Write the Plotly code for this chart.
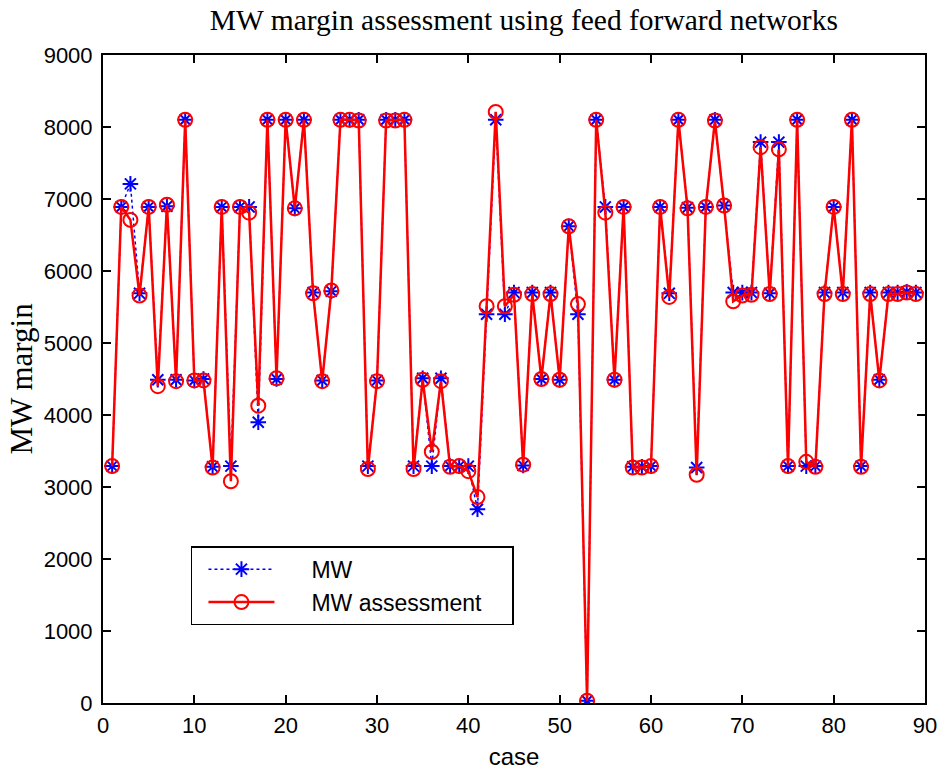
import plotly.graph_objects as go

# Case index and the two MW margin series (actual vs. network assessment)
cases = list(range(1, 90))

mw = [
    3290, 6890, 7210, 5690, 6890, 4490, 6900, 4490, 8100, 4480,
    4500, 3280, 6890, 3290, 6890, 6890, 3900, 8100, 4500, 8100,
    6870, 8100, 5700, 4480, 5720, 8100, 8100, 8100, 3290, 4480,
    8100, 8100, 8100, 3290, 4510, 3290, 4510, 3290, 3290, 3290,
    2690, 5400, 8100, 5400, 5700, 3300, 5700, 4500, 5700, 4490,
    6620, 5400, 30, 8100, 6890, 4490, 6890, 3280, 3280, 3290,
    6890, 5690, 8100, 6880, 3270, 6890, 8100, 6910, 5700, 5700,
    5700, 7790, 5690, 7790, 3290, 8100, 3290, 3290, 5700, 6890,
    5700, 8100, 3290, 5700, 4490, 5700, 5700, 5710, 5700,
]

mw_assessment = [
    3290, 6890, 6710, 5660, 6890, 4400, 6920, 4470, 8100, 4480,
    4480, 3270, 6890, 3080, 6890, 6810, 4130, 8100, 4510, 8100,
    6870, 8100, 5690, 4470, 5730, 8100, 8100, 8090, 3250, 4470,
    8090, 8090, 8100, 3250, 4490, 3490, 4470, 3280, 3290, 3220,
    2860, 5510, 8210, 5510, 5670, 3310, 5680, 4500, 5680, 4490,
    6620, 5540, 30, 8100, 6810, 4490, 6890, 3270, 3270, 3290,
    6890, 5640, 8100, 6870, 3170, 6890, 8090, 6910, 5580, 5660,
    5670, 7720, 5680, 7690, 3290, 8100, 3350, 3280, 5680, 6890,
    5680, 8100, 3280, 5680, 4480, 5680, 5680, 5700, 5680,
]

x_ticks = list(range(0, 91, 10))
y_ticks = list(range(0, 9001, 1000))

sans = "Liberation Sans, Arial, sans-serif"
serif = "Liberation Serif, Times New Roman, serif"

# legend entries: the gap after the sample line and the box's right padding
# are kept with non-breaking spaces
pad = "\u00a0" * 5
names = [pad + "MW", pad + "MW assessment" + "\u00a0" * 4]

fig = go.Figure()

fig.add_trace(go.Scatter(
    x=cases, y=mw, name=names[0], mode="lines+markers",
    line=dict(color="#0000ff", width=1.5, dash="dot"),
    marker=dict(symbol="asterisk-open", size=13,
                line=dict(color="#0000ff", width=2)),
))

fig.add_trace(go.Scatter(
    x=cases, y=mw_assessment, name=names[1], mode="lines+markers",
    line=dict(color="#ff0000", width=2.5),
    marker=dict(symbol="circle-open", size=14,
                line=dict(color="#ff0000", width=2)),
))

axis_common = dict(
    showgrid=False, zeroline=False, automargin=False,
    showline=True, linecolor="black", linewidth=2, mirror="ticks",
    ticks="inside", ticklen=8, tickwidth=1.5, tickcolor="black",
    tickfont=dict(family=sans, size=22, color="black"),
)

fig.update_layout(
    width=940, height=770,
    margin=dict(l=103, r=15, t=55, b=67),
    paper_bgcolor="white", plot_bgcolor="white",
    title=dict(text="MW margin assessment using feed forward networks",
               font=dict(family=serif, size=29.5, color="black"),
               x=0.512, xref="paper", xanchor="center",
               y=0.974, yref="container", yanchor="middle"),
    xaxis=dict(range=[0, 90], tickvals=x_ticks, ticklabelstandoff=2,
               title=dict(text="case", font=dict(family=sans, size=24, color="black"),
                          standoff=14),
               **axis_common),
    yaxis=dict(range=[0, 9000], tickvals=y_ticks, ticklabelstandoff=4,
               title=dict(text="MW margin", font=dict(family=serif, size=31, color="black"),
                          standoff=2),
               **axis_common),
    legend=dict(x=0.107, y=0.242, xanchor="left", yanchor="top",
                bgcolor="white", bordercolor="black", borderwidth=1.5,
                font=dict(family=sans, size=23, color="black"),
                tracegroupgap=0, itemwidth=66, indentation=11),
    showlegend=True,
)

fig.write_html("out.html")
